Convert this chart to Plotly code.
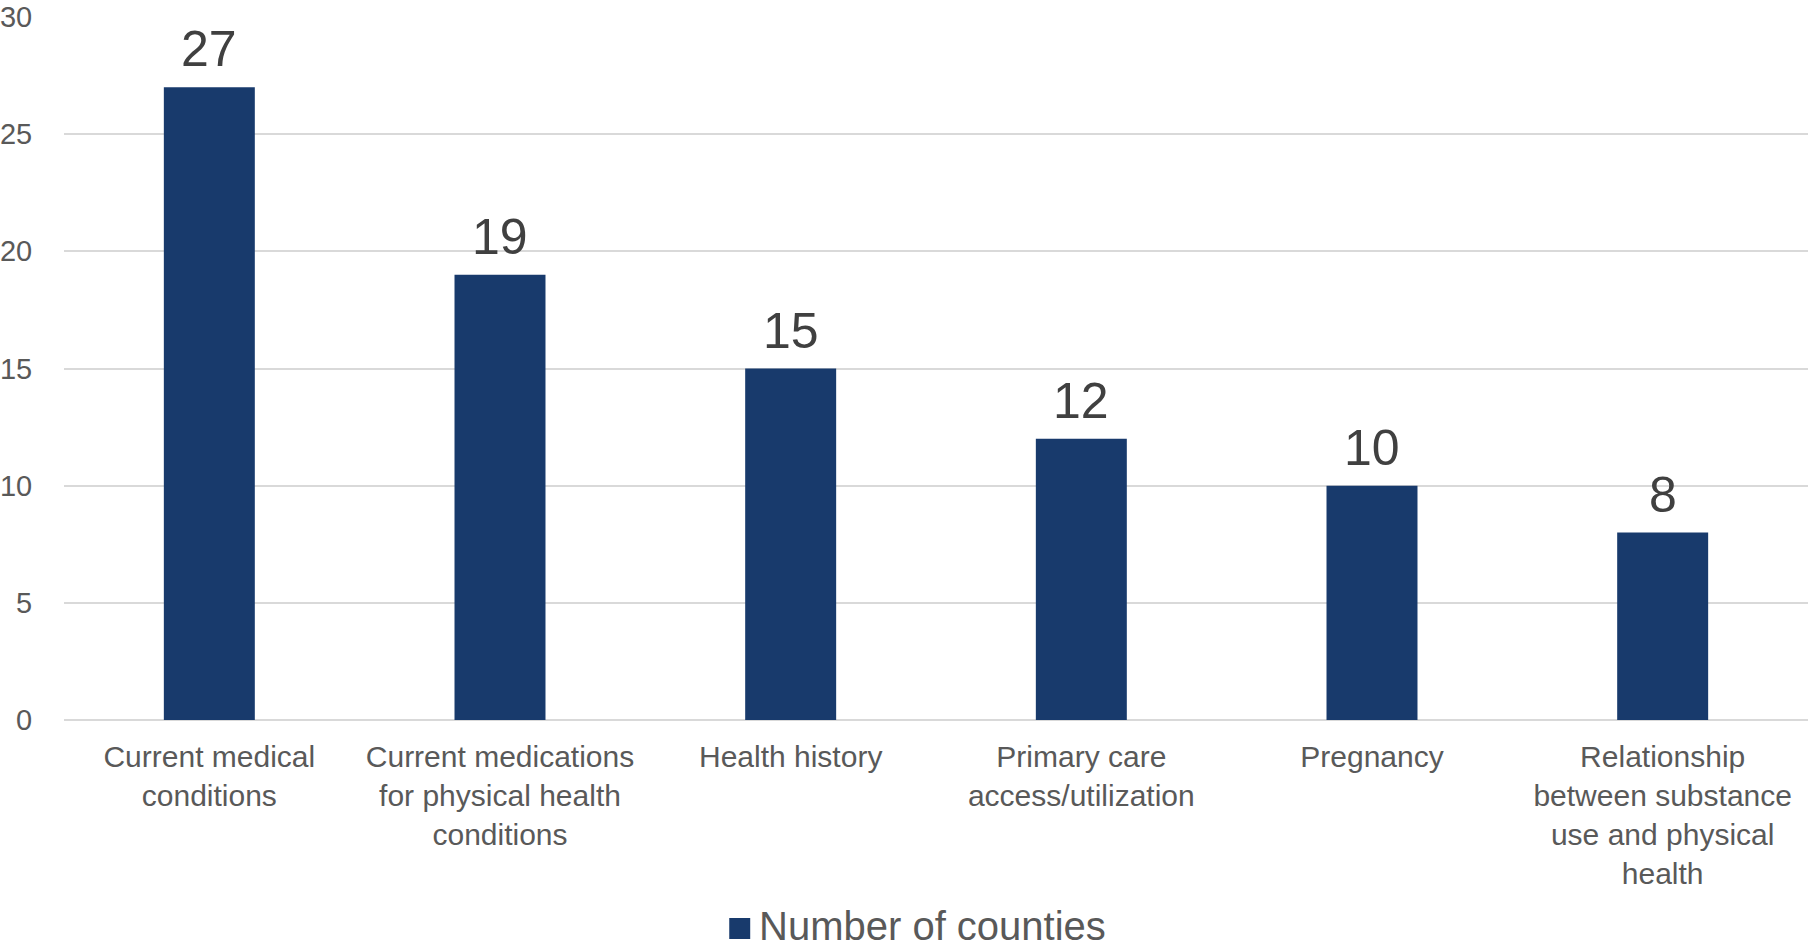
import plotly.graph_objects as go

categories = [
    "Current medical<br>conditions",
    "Current medications<br>for physical health<br>conditions",
    "Health history",
    "Primary care<br>access/utilization",
    "Pregnancy",
    "Relationship<br>between substance<br>use and physical<br>health",
]
counts = [27, 19, 15, 12, 10, 8]
series_name = "Number of counties"
y_ticks = [0, 5, 10, 15, 20, 25, 30]

BAR_COLOR = "#183A6C"
GRID_COLOR = "#D9D9D9"
FONT = "'Liberation Sans', Arial, sans-serif"

fig = go.Figure(
    go.Bar(
        x=categories,
        y=counts,
        name=series_name,
        marker=dict(color=BAR_COLOR, line=dict(width=0)),
        showlegend=False,
    )
)

# Value labels above each bar
for cat, val in zip(categories, counts):
    fig.add_annotation(
        x=cat, y=val, text=str(val), showarrow=False,
        xanchor="center", yanchor="bottom", yshift=8,
        font=dict(family=FONT, size=50, color="#404040"),
    )

# Legend drawn as a square swatch plus a text label below the axis
fig.add_shape(
    type="rect", xref="paper", yref="paper",
    x0=(728 - 62) / 1746, x1=(749 - 62) / 1746,
    y0=-(918 - 720) / 703, y1=-(939 - 720) / 703,
    fillcolor=BAR_COLOR, line=dict(width=0),
)
fig.add_annotation(
    text=series_name, xref="paper", yref="paper",
    x=(756 - 62) / 1746, y=-(926 - 720) / 703,
    xanchor="left", yanchor="middle", showarrow=False,
    font=dict(family=FONT, size=40, color="#595959"),
)

fig.update_layout(
    width=1808, height=949,
    margin=dict(l=62, r=0, t=17, b=229),
    paper_bgcolor="white", plot_bgcolor="white",
    bargap=0.687,
    font=dict(family=FONT, color="#595959"),
)
fig.update_xaxes(
    showgrid=False, showline=False, zeroline=False,
    tickfont=dict(family=FONT, size=30, color="#595959"),
    ticks="outside", ticklen=10, tickcolor="rgba(0,0,0,0)",
)
fig.update_yaxes(
    range=[0, 30], tickvals=y_ticks,
    showgrid=True, gridcolor=GRID_COLOR, gridwidth=2,
    zeroline=True, zerolinecolor=GRID_COLOR, zerolinewidth=2,
    showline=False,
    tickfont=dict(family=FONT, size=29, color="#595959"),
    ticks="outside", ticklen=25, tickcolor="rgba(0,0,0,0)",
)

fig.write_html("out.html")
